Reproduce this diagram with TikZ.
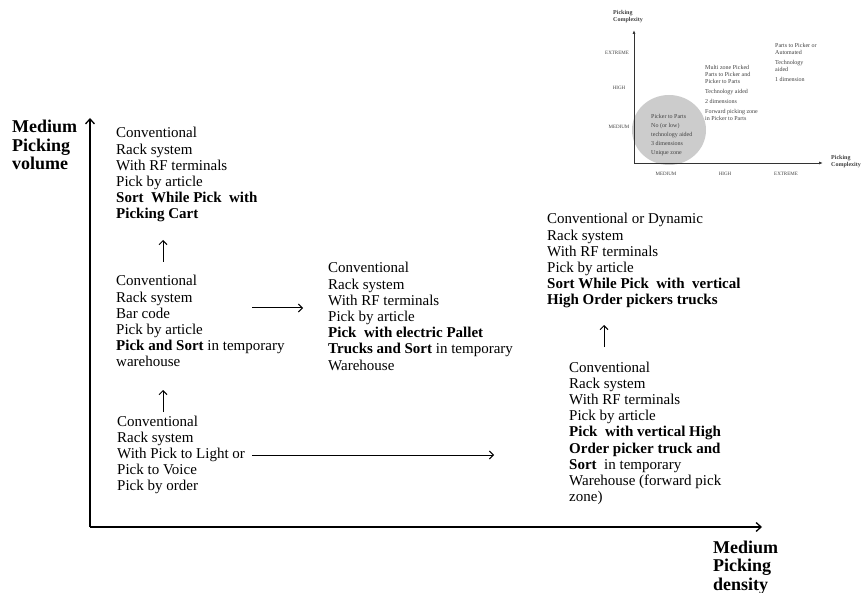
\documentclass[tikz,border=0pt]{standalone}
\usepackage{fontspec}
\setmainfont{Liberation Serif}
\usetikzlibrary{arrows.meta}
\newcommand{\txtblock}[1]{\begin{tabular}[t]{@{}l@{}}#1\end{tabular}}
\tikzset{
  blk/.style={anchor=base west, inner sep=0pt, font=\fontsize{15}{16.2}\selectfont},
  axlbl/.style={anchor=base west, inner sep=0pt, font=\fontsize{18}{18.5}\selectfont\bfseries},
  arr/.style={line width=1pt, -{Straight Barb[length=4pt,width=8pt]}},
  mainaxis/.style={line width=1.3pt, -{Straight Barb[length=5pt,width=9pt]}},
  iaxis/.style={line width=0.9pt, black!80, -{Latex[length=4pt,width=3pt]}},
  itxt/.style={anchor=base west, inner sep=0pt, text=black!75, font=\fontsize{6}{7}\selectfont},
  itick/.style={anchor=base, inner sep=0pt, text=black!75, font=\fontsize{5}{6}\selectfont},
}
\begin{document}
\begin{tikzpicture}[x=1pt,y=-1pt]
\useasboundingbox (0,0) rectangle (864,593);

% ---------- inset chart ----------
\fill[black!20] (669,130) ellipse [x radius=37, y radius=35];
\coordinate (io) at (634,163);
\coordinate (iy) at (634,30);
\coordinate (ix) at (823,163);
\draw[iaxis] (io) -- (iy);
\draw[iaxis] (io) -- (ix);
\node[itxt, font=\fontsize{6}{7}\selectfont\bfseries] (iyl) at (613,15) {\txtblock{Picking\\Complexity}};
\node[itxt, font=\fontsize{6}{7}\selectfont\bfseries] (ixl) at (831,160) {\txtblock{Picking\\Complexity}};
\node[itick] (ty1) at (617,55) {EXTREME};
\node[itick] (ty2) at (619,90) {HIGH};
\node[itick] (ty3) at (619,129) {MEDIUM};
\node[itick] (tx1) at (666,176) {MEDIUM};
\node[itick] (tx2) at (725,176) {HIGH};
\node[itick] (tx3) at (786,176) {EXTREME};
\node[itxt] (ic1) at (651,119) {\txtblock{Picker to Parts\\[2pt] No (or low)\\[2pt] technology aided\\[2pt] 3 dimensions\\[2pt] Unique zone}};
\node[itxt] (ic2) at (705,70) {\txtblock{Multi zone Picked\\ Parts to Picker and\\ Picker to Parts\\[3pt] Technology aided\\[3pt] 2 dimensions\\[3pt] Forward picking zone\\ in Picker to Parts}};
\node[itxt] (ic3) at (775,48) {\txtblock{Parts to Picker or\\ Automated\\[3pt] Technology\\ aided\\[3pt] 1 dimension}};

% ---------- main axes ----------
\coordinate (o) at (90,527);
\coordinate (ytop) at (90,118);
\coordinate (xend) at (762,527);
\draw[mainaxis] (o) -- (ytop);
\draw[mainaxis] (o) -- (xend);
\node[axlbl] (vlab) at (12,133) {\txtblock{Medium\\ Picking\\ volume}};
\node[axlbl] (dlab) at (713,553) {\txtblock{Medium\\ Picking\\ density}};

% ---------- blocks ----------
\node[blk] (b1) at (116,138) {\txtblock{Conventional\\ Rack system\\ With RF terminals\\ Pick by article\\ \textbf{Sort~ While Pick~ with}\\ \textbf{Picking Cart}}};
\node[blk] (b2) at (116,286) {\txtblock{Conventional\\ Rack system\\ Bar code\\ Pick by article\\ \textbf{Pick and Sort} in temporary\\ warehouse}};
\node[blk] (b3) at (328,273) {\txtblock{Conventional\\ Rack system\\ With RF terminals\\ Pick by article\\ \textbf{Pick~ with electric Pallet}\\ \textbf{Trucks and Sort} in temporary\\ Warehouse}};
\node[blk] (b4) at (117,426) {\txtblock{Conventional\\ Rack system\\ With Pick to Light or\\ Pick to Voice\\ Pick by order}};
\node[blk] (b5) at (547,224) {\txtblock{Conventional or Dynamic\\ Rack system\\ With RF terminals\\ Pick by article\\ \textbf{Sort While Pick~ with~ vertical}\\ \textbf{High Order pickers trucks}}};
\node[blk] (b6) at (569,372) {\txtblock{Conventional\\ Rack system\\ With RF terminals\\ Pick by article\\ \textbf{Pick~ with vertical High}\\ \textbf{Order picker truck and}\\ \textbf{Sort}~ in temporary\\ Warehouse (forward pick\\ zone)}};

% ---------- connectors ----------
\coordinate (a1s) at (163,262); \coordinate (a1e) at (163,240);
\coordinate (a2s) at (252,308); \coordinate (a2e) at (303,308);
\coordinate (a3s) at (163,412); \coordinate (a3e) at (163,390);
\coordinate (a4s) at (252,455); \coordinate (a4e) at (494,455);
\coordinate (a5s) at (604,347); \coordinate (a5e) at (604,325);
\draw[arr] (a1s) -- (a1e);
\draw[arr] (a2s) -- (a2e);
\draw[arr] (a3s) -- (a3e);
\draw[arr] (a4s) -- (a4e);
\draw[arr] (a5s) -- (a5e);
\end{tikzpicture}
\end{document}
